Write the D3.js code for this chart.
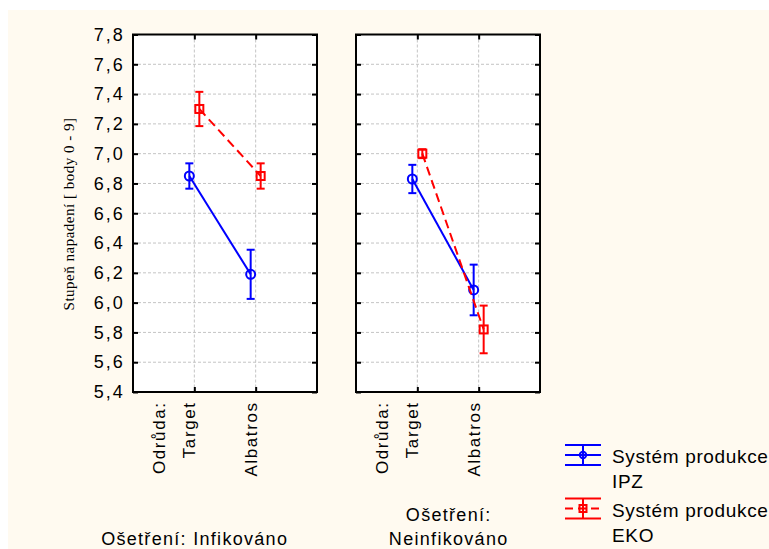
<!DOCTYPE html>
<html>
<head>
<meta charset="utf-8">
<script src="https://cdn.jsdelivr.net/npm/d3@7"></script>
<style>
  body { margin: 0; background: #fff; }
  svg { display: block; }
</style>
</head>
<body>
<script>
// data
const odrudy = ["Target", "Albatros"];
const osetreni = [["Ošetření: Infikováno"], ["Ošetření:", "Neinfikováno"]];
const ipzMeans = [[6.85, 6.19], [6.83, 6.085]];
const ipzErrors = [[0.085, 0.165], [0.095, 0.17]];
const ekoMeans = [[7.30, 6.85], [7.0, 5.82]];
const ekoErrors = [[0.115, 0.085], [0.03, 0.16]];
const seriesLabels = [["Systém produkce", "IPZ"], ["Systém produkce", "EKO"]];
const yLabel = "Stupeň napadení [ body 0 - 9]";
const factorLabel = "Odrůda:";

const width = 769;
const height = 549;

const series = [
  { key: "ipz", means: ipzMeans, errors: ipzErrors, label: seriesLabels[0],
    color: "#0000ff", dash: null, shape: "circle", shift: -5 },
  { key: "eko", means: ekoMeans, errors: ekoErrors, label: seriesLabels[1],
    color: "#ff0000", dash: "9,5", shape: "square", shift: 5 }
];

const svg = d3.select("body").append("svg")
  .attr("width", width)
  .attr("height", height);

svg.append("rect")
  .attr("x", 8).attr("y", 10)
  .attr("width", width - 8).attr("height", height - 10)
  .attr("fill", "#fffaf0");

const panelX = [133, 356];
const panelW = 184;
const plotTop = 34.5;
const plotBottom = 392;

const y = d3.scaleLinear().domain([5.4, 7.8]).range([plotBottom, plotTop]);
const yTicks = y.ticks(12);
const fmt = d => d3.format(".1f")(d).replace(".", ",");

const font = "'Liberation Sans', Arial, sans-serif";

panelX.forEach((px, p) => {
  const g = svg.append("g").attr("transform", `translate(${px},0)`);
  const x = d3.scalePoint().domain(odrudy).range([0, panelW]).padding(1);

  g.append("rect")
    .attr("x", 0).attr("y", plotTop)
    .attr("width", panelW).attr("height", plotBottom - plotTop)
    .attr("fill", "#fff");

  // grid
  g.selectAll("line.hgrid")
    .data(yTicks.slice(1, -1))
    .enter().append("line")
    .attr("class", "hgrid")
    .attr("x1", 0).attr("x2", panelW)
    .attr("y1", d => y(d)).attr("y2", d => y(d))
    .attr("stroke", "#c4c4c4").attr("stroke-width", 1)
    .attr("stroke-dasharray", "3,2");

  g.selectAll("line.vgrid")
    .data(odrudy)
    .enter().append("line")
    .attr("class", "vgrid")
    .attr("x1", d => x(d)).attr("x2", d => x(d))
    .attr("y1", plotTop).attr("y2", plotBottom)
    .attr("stroke", "#c4c4c4").attr("stroke-width", 1)
    .attr("stroke-dasharray", "3,2");

  // inward ticks on all four sides
  const left = g.append("g")
    .call(d3.axisLeft(y).tickValues(yTicks).tickSizeInner(-5).tickSizeOuter(0)
      .tickPadding(8.3).tickFormat(p === 0 ? fmt : ""));
  const right = g.append("g").attr("transform", `translate(${panelW},0)`)
    .call(d3.axisRight(y).tickValues(yTicks).tickSizeInner(-5).tickSizeOuter(0).tickFormat(""));
  const topAx = g.append("g").attr("transform", `translate(0,${plotTop})`)
    .call(d3.axisTop(x).tickSizeInner(-5).tickSizeOuter(0).tickFormat(""));
  const botAx = g.append("g").attr("transform", `translate(0,${plotBottom})`)
    .call(d3.axisBottom(x).tickSizeInner(-5).tickSizeOuter(0).tickFormat(""));

  [left, right, topAx, botAx].forEach(a => {
    a.select(".domain").remove();
    a.selectAll(".tick line").attr("stroke", "#000").attr("stroke-width", 2);
  });
  left.selectAll(".tick text")
    .attr("font-family", font)
    .attr("font-size", 18)
    .attr("letter-spacing", 2)
    .attr("fill", "#000");

  // series lines, error bars, markers
  series.forEach(s => {
    const pts = odrudy.map((c, i) => ({
      x: x(c) + s.shift,
      m: s.means[p][i],
      e: s.errors[p][i]
    }));

    g.append("path")
      .datum(pts)
      .attr("d", d3.line().x(d => d.x).y(d => y(d.m)))
      .attr("fill", "none")
      .attr("stroke", s.color)
      .attr("stroke-width", 2)
      .attr("stroke-dasharray", s.dash);

    const eb = g.selectAll(null).data(pts).enter().append("g");
    eb.append("line")
      .attr("x1", d => d.x).attr("x2", d => d.x)
      .attr("y1", d => y(d.m + d.e)).attr("y2", d => y(d.m - d.e));
    eb.append("line")
      .attr("x1", d => d.x - 4).attr("x2", d => d.x + 4)
      .attr("y1", d => y(d.m + d.e)).attr("y2", d => y(d.m + d.e));
    eb.append("line")
      .attr("x1", d => d.x - 4).attr("x2", d => d.x + 4)
      .attr("y1", d => y(d.m - d.e)).attr("y2", d => y(d.m - d.e));
    eb.selectAll("line").attr("stroke", s.color).attr("stroke-width", 2);

    if (s.shape === "circle") {
      eb.append("circle")
        .attr("cx", d => d.x).attr("cy", d => y(d.m)).attr("r", 4.5)
        .attr("fill", "none").attr("stroke", s.color).attr("stroke-width", 2);
    } else {
      eb.append("rect")
        .attr("x", d => d.x - 4).attr("y", d => y(d.m) - 4)
        .attr("width", 8).attr("height", 8)
        .attr("fill", "none").attr("stroke", s.color).attr("stroke-width", 2);
    }
  });

  // frame
  g.append("rect")
    .attr("x", 0).attr("y", plotTop)
    .attr("width", panelW).attr("height", plotBottom - plotTop)
    .attr("fill", "none").attr("stroke", "#000").attr("stroke-width", 2);

  // rotated category labels
  const catLabels = [{ t: factorLabel, x: x(odrudy[0]) - 29 }]
    .concat(odrudy.map(c => ({ t: c, x: x(c) + 1 })));
  g.selectAll("text.cat")
    .data(catLabels)
    .enter().append("text")
    .attr("class", "cat")
    .attr("transform", d => `translate(${d.x},401.4) rotate(-90)`)
    .attr("text-anchor", "end")
    .attr("font-family", font)
    .attr("font-size", 17)
    .attr("letter-spacing", 1.6)
    .attr("fill", "#000")
    .text(d => d.t);

  // panel title (Ošetření)
  const lines = osetreni[p];
  const cx = p === 0 ? 61 : panelW / 2;
  g.selectAll("text.panel")
    .data(lines)
    .enter().append("text")
    .attr("class", "panel")
    .attr("x", cx + 0.7)
    .attr("y", (d, i) => 545 - (lines.length - 1 - i) * 24)
    .attr("text-anchor", "middle")
    .attr("font-family", font)
    .attr("font-size", 18)
    .attr("letter-spacing", 1.3)
    .attr("fill", "#000")
    .text(d => d);
});

// y axis title
svg.append("text")
  .attr("transform", "translate(74,214) rotate(-90)")
  .attr("text-anchor", "middle")
  .attr("font-family", "'Liberation Serif', 'Times New Roman', serif")
  .attr("font-size", 15)
  .attr("letter-spacing", 0.5)
  .attr("fill", "#000")
  .text(yLabel);

// legend
const legend = svg.selectAll("g.legend")
  .data(series)
  .enter().append("g")
  .attr("class", "legend")
  .attr("transform", (d, i) => `translate(565,${455 + i * 53.5})`);

legend.each(function(s) {
  const lg = d3.select(this);
  [-10, 10].forEach(dy => {
    lg.append("line")
      .attr("x1", 0).attr("x2", 36).attr("y1", dy).attr("y2", dy)
      .attr("stroke", s.color).attr("stroke-width", 2);
  });
  lg.append("line")
    .attr("x1", 0).attr("x2", 36).attr("y1", 0).attr("y2", 0)
    .attr("stroke", s.color).attr("stroke-width", 2)
    .attr("stroke-dasharray", s.dash ? "8,5" : null);
  lg.append("line")
    .attr("x1", 18).attr("x2", 18).attr("y1", -10).attr("y2", 10)
    .attr("stroke", s.color).attr("stroke-width", 2);
  if (s.shape === "circle") {
    lg.append("circle").attr("cx", 18).attr("cy", 0).attr("r", 3.2)
      .attr("fill", "none").attr("stroke", s.color).attr("stroke-width", 2);
  } else {
    lg.append("rect").attr("x", 14.5).attr("y", -3.5).attr("width", 7).attr("height", 7)
      .attr("fill", "none").attr("stroke", s.color).attr("stroke-width", 2);
  }
  lg.selectAll("text")
    .data(s.label)
    .enter().append("text")
    .attr("x", 47)
    .attr("y", (d, i) => 8 + i * 25)
    .attr("font-family", font)
    .attr("font-size", 19)
    .attr("letter-spacing", 0.65)
    .attr("fill", "#000")
    .text(d => d);
});
</script>
</body>
</html>
